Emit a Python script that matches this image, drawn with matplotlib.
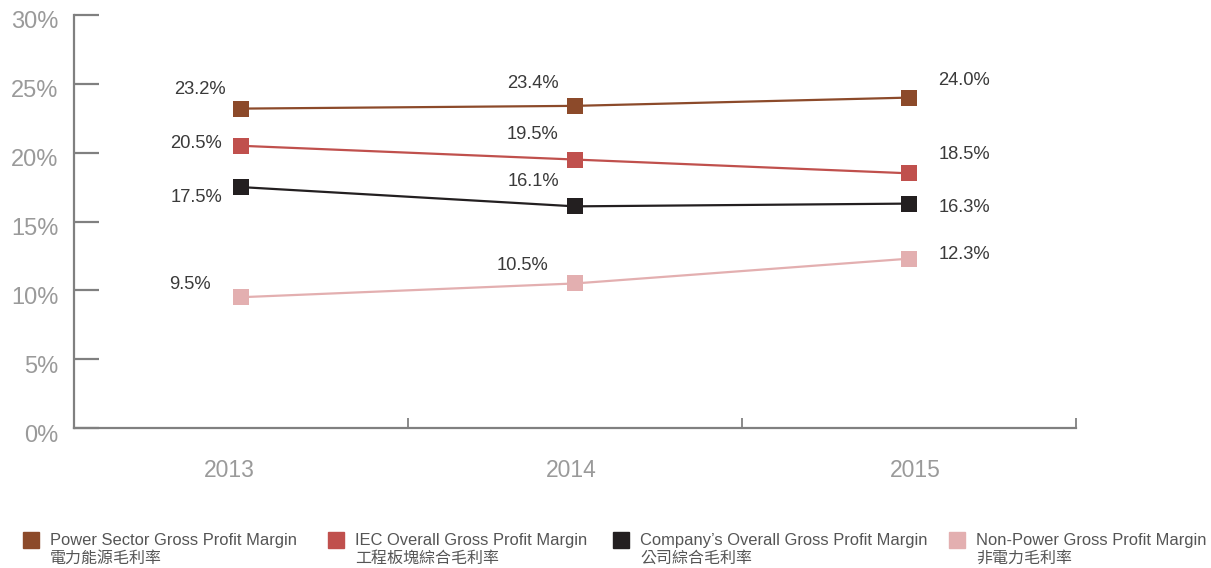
import matplotlib
matplotlib.use("Agg")
import matplotlib.pyplot as plt
from matplotlib.patches import Rectangle
from matplotlib.transforms import ScaledTranslation

plt.rcParams['font.family'] = ['Liberation Sans', 'Noto Sans CJK TC', 'DejaVu Sans']

years = ["2013", "2014", "2015"]
power = [23.2, 23.4, 24.0]
iec = [20.5, 19.5, 18.5]
company = [17.5, 16.1, 16.3]
non_power = [9.5, 10.5, 12.3]

names_en = ["Power Sector Gross Profit Margin", "IEC Overall Gross Profit Margin",
            "Company\u2019s Overall Gross Profit Margin", "Non-Power Gross Profit Margin"]
names_zh = ["電力能源毛利率", "工程板塊綜合毛利率", "公司綜合毛利率", "非電力毛利率"]
colors = ["#8c4a2a", "#c0504d", "#231f20", "#e3afb0"]

# label offsets in pixels (dx, dy) per series, per year
offsets = [
    [(-41, 19), (-42, 22), (55, 17)],
    [(-45, 2), (-42, 25), (55, 19)],
    [(-45, -10), (-42, 25), (55, -4)],
    [(-51, 13), (-53, 18), (55, 4)],
]

series = [power, iec, company, non_power]

fig = plt.figure(figsize=(12.11, 5.68), dpi=100)
ax = fig.add_axes([74 / 1211, 1 - 428 / 568, (1076 - 74) / 1211, 413 / 568])

x = range(len(years))
for vals, c, offs in zip(series, colors, offsets):
    ax.plot(x, vals, color=c, linewidth=1.6, marker="s", markersize=11,
            markeredgewidth=0, zorder=3)
    for xi, v, (dx, dy) in zip(x, vals, offs):
        ax.annotate(f"{v:.1f}%", (xi, v), xytext=(dx, dy), textcoords="offset pixels",
                    ha="center", va="center", fontsize=13.2, color="#3a3a3a")

ax.set_xlim(-0.5, 2.5)
ax.set_ylim(0, 30)
ax.set_yticks(range(0, 31, 5))
ax.set_yticklabels([f"{t}%" for t in range(0, 31, 5)])
ax.set_xticks(list(x))
ax.set_xticklabels(years)
ax.set_xticks([0.5, 1.5, 2.5], minor=True)

axis_col = "#808080"
for side in ["top", "right"]:
    ax.spines[side].set_visible(False)
for side in ["left", "bottom"]:
    ax.spines[side].set_color(axis_col)
    ax.spines[side].set_linewidth(1.6)

ax.tick_params(axis="y", direction="in", length=18, width=1.6, color=axis_col,
               labelsize=17, labelcolor="#9a9a9a", pad=11)
ax.tick_params(axis="x", which="major", length=0, labelsize=16.5,
               labelcolor="#9a9a9a", pad=22)
ax.tick_params(axis="x", which="minor", direction="in", length=7, width=1.3, color=axis_col)

for lab in ax.get_yticklabels():
    lab.set_transform(lab.get_transform() + ScaledTranslation(0, -0.05, fig.dpi_scale_trans))
for lab, shift in zip(ax.get_xticklabels(), [-0.12, -0.04, 0.06]):
    lab.set_transform(lab.get_transform() + ScaledTranslation(shift, 0, fig.dpi_scale_trans))

# legend
leg_x = [31, 336, 621, 957]
for lx, c, en, zh in zip(leg_x, colors, names_en, names_zh):
    fig.add_artist(Rectangle(((lx - 8) / 1211, 1 - 548 / 568), 16 / 1211, 16 / 568,
                             transform=fig.transFigure, color=c))
    fig.text((lx + 19) / 1211, 1 - 540 / 568, en, fontsize=11.9, color="#555555",
             ha="left", va="center")
    fig.text((lx + 19) / 1211, 1 - 558 / 568, zh, fontsize=11.5, color="#555555",
             ha="left", va="center")

fig.savefig("out.png", dpi=100)
